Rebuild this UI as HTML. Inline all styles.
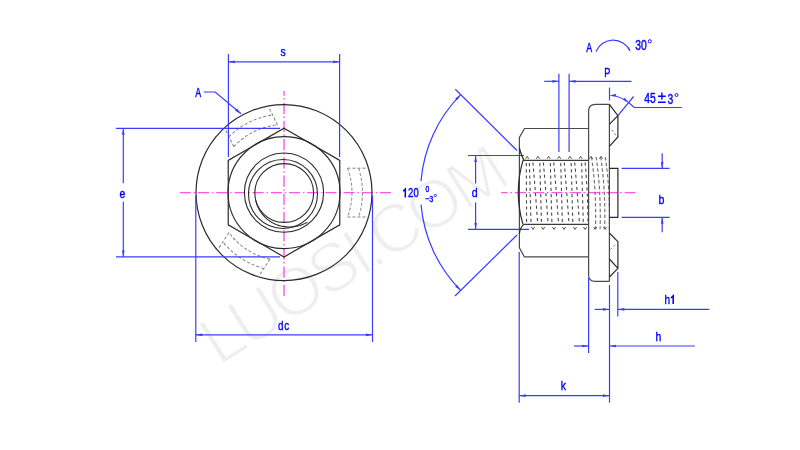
<!DOCTYPE html>
<html><head><meta charset="utf-8"><style>
html,body{margin:0;padding:0;background:#fff;width:800px;height:450px;overflow:hidden}
svg{display:block;will-change:transform}
text{font-family:"Liberation Sans",sans-serif}
</style></head><body>
<svg width="800" height="450" viewBox="0 0 800 450">
<rect width="800" height="450" fill="#fff"/>
<text transform="translate(218.77,366.85) rotate(-32.1)" font-size="68.7" letter-spacing="-4.65" fill="#eeeeee" stroke="#ffffff" stroke-width="2.0">LUOSI.COM</text>
<line x1="179.8" y1="192.6" x2="391" y2="192.6" stroke="#ff55e8" stroke-width="1.4" fill="none" stroke-dasharray="11,2.9,1.5,2.8"/>
<line x1="284.0" y1="91" x2="284.0" y2="296.7" stroke="#ff55e8" stroke-width="1.4" fill="none" stroke-dasharray="11.2,2.5,1.6,2.9" stroke-dashoffset="6.5"/>
<circle cx="284.0" cy="192.6" r="88" stroke="#2a2a2a" stroke-width="1.2" fill="none"/>
<polygon points="284.00,128.20 339.77,160.40 339.77,224.80 284.00,257.00 228.23,224.80 228.23,160.40" stroke="#2a2a2a" stroke-width="1.2" fill="none"/>
<circle cx="284.0" cy="192.6" r="56" stroke="#2a2a2a" stroke-width="1.1" fill="none"/>
<circle cx="284.0" cy="192.6" r="39.6" stroke="#2a2a2a" stroke-width="1.1" fill="none"/>
<circle cx="284.2" cy="193" r="29.4" stroke="#2a2a2a" stroke-width="1.1" fill="none"/>
<circle cx="283" cy="194" r="34.5" stroke="#2a2a2a" stroke-width="1.1" fill="none"/>
<path d="M255.80,200.61 L255.99,201.31 L256.18,202.02 L256.39,202.71 L256.61,203.41 L256.84,204.10 L257.09,204.79 L257.35,205.48 L257.63,206.16 L257.92,206.84 L258.23,207.51 L258.55,208.17 L258.89,208.83 L259.24,209.49 L259.60,210.14 L259.98,210.78 L260.38,211.41 L260.79,212.04 L261.22,212.66 L261.66,213.27 L262.11,213.87 L262.58,214.46 L263.07,215.05 L263.57,215.62 L264.08,216.19 L264.61,216.74 L265.15,217.28 L265.71,217.82 L266.28,218.34 L266.86,218.85 L267.46,219.34 L268.07,219.83 L268.69,220.30 L269.33,220.76 L269.98,221.21 L270.64,221.64 L271.31,222.05 L271.99,222.46 L272.69,222.84 L273.40,223.22 L274.12,223.57 L274.85,223.91 L275.59,224.24 L276.34,224.55 L277.10,224.84 L277.87,225.11 L278.64,225.37 L279.43,225.61 L280.23,225.83 L281.03,226.04 L281.84,226.22 L282.66,226.39 L283.48,226.53 L284.31,226.66 L285.15,226.77 L285.99,226.86 L286.84,226.92 L287.69,226.97 L288.55,227.00 L289.41,227.01 L290.27,226.99 L291.14,226.96 L292.00,226.90 L292.87,226.83 L293.74,226.73 L294.62,226.61 L295.49,226.47 L296.36,226.30 L297.23,226.12 L298.10,225.91 L298.97,225.69 L299.83,225.43 L300.69,225.16 L301.55,224.87 L302.41,224.55 L303.26,224.21 L304.10,223.85 L304.94,223.47 L305.77,223.07 L306.60,222.64 L307.42,222.19" stroke="#2a2a2a" stroke-width="1.1" fill="none" />
<path transform="translate(284.0,192.6) rotate(0)" d="M63.47,-24.4 L84.55,-24.4 M63.47,24.4 L84.55,24.4 M63.47,-24.4 A68.0,68.0 0 0 1 63.47,24.4 M74.61,-24.4 A78.5,78.5 0 0 1 74.61,24.4" stroke="#808080" stroke-width="1" fill="none" stroke-dasharray="3,2"/>
<path transform="translate(284.0,192.6) rotate(-116.5)" d="M63.47,-24.4 L84.55,-24.4 M63.47,24.4 L84.55,24.4 M63.47,-24.4 A68.0,68.0 0 0 1 63.47,24.4 M74.61,-24.4 A78.5,78.5 0 0 1 74.61,24.4" stroke="#808080" stroke-width="1" fill="none" stroke-dasharray="3,2"/>
<path transform="translate(284.0,192.6) rotate(-237)" d="M63.47,-24.4 L84.55,-24.4 M63.47,24.4 L84.55,24.4 M63.47,-24.4 A68.0,68.0 0 0 1 63.47,24.4 M74.61,-24.4 A78.5,78.5 0 0 1 74.61,24.4" stroke="#808080" stroke-width="1" fill="none" stroke-dasharray="3,2"/>
<line x1="228.40" y1="54.00" x2="228.40" y2="157.00" stroke="#3c3cff" stroke-width="1.2" />
<line x1="339.60" y1="54.00" x2="339.60" y2="157.00" stroke="#3c3cff" stroke-width="1.2" />
<line x1="228.40" y1="61.80" x2="339.60" y2="61.80" stroke="#3c3cff" stroke-width="1.2" />
<polygon points="228.40,61.80 234.90,60.45 234.90,63.15" fill="#3c3cff"/>
<polygon points="339.60,61.80 333.10,63.15 333.10,60.45" fill="#3c3cff"/>
<text transform="translate(283.00,56.20) scale(0.8,1)" font-size="13" text-anchor="middle" fill="#0000ff" stroke="#0000ff" stroke-width="0.4" >s</text>
<text transform="translate(198.20,97.30) scale(0.66,1)" font-size="13.4" text-anchor="middle" fill="#0000ff" stroke="#0000ff" stroke-width="0.4" >A</text>
<polyline points="203.7,92 215.2,92 241,113.8" stroke="#3c3cff" stroke-width="1.2" fill="none"/>
<polygon points="241.00,113.80 235.16,110.64 236.91,108.57" fill="#3c3cff"/>
<line x1="116.00" y1="128.30" x2="280.00" y2="128.30" stroke="#3c3cff" stroke-width="1.2" />
<line x1="116.00" y1="256.90" x2="280.00" y2="256.90" stroke="#3c3cff" stroke-width="1.2" />
<line x1="123.30" y1="128.30" x2="123.30" y2="183.30" stroke="#3c3cff" stroke-width="1.2" />
<line x1="123.30" y1="201.70" x2="123.30" y2="256.90" stroke="#3c3cff" stroke-width="1.2" />
<polygon points="123.30,128.30 124.65,134.80 121.95,134.80" fill="#3c3cff"/>
<polygon points="123.30,256.90 121.95,250.40 124.65,250.40" fill="#3c3cff"/>
<text transform="translate(122.50,197.80) scale(0.8,1)" font-size="13" text-anchor="middle" fill="#0000ff" stroke="#0000ff" stroke-width="0.4" >e</text>
<line x1="195.80" y1="195.80" x2="195.80" y2="342.00" stroke="#3c3cff" stroke-width="1.2" />
<line x1="372.50" y1="195.60" x2="372.50" y2="342.00" stroke="#3c3cff" stroke-width="1.2" />
<line x1="195.80" y1="334.80" x2="372.50" y2="334.80" stroke="#3c3cff" stroke-width="1.2" />
<polygon points="195.80,334.80 202.30,333.45 202.30,336.15" fill="#3c3cff"/>
<polygon points="372.50,334.80 366.00,336.15 366.00,333.45" fill="#3c3cff"/>
<text transform="translate(283.90,330.00) scale(0.76,1)" font-size="13" text-anchor="middle" fill="#0000ff" stroke="#0000ff" stroke-width="0.4" letter-spacing="1">dc</text>
<line x1="455.30" y1="89.30" x2="517.00" y2="150.50" stroke="#3c3cff" stroke-width="1.2" />
<line x1="455.00" y1="296.00" x2="517.00" y2="235.00" stroke="#3c3cff" stroke-width="1.2" />
<path d="M460.75,94.69 A139.2,139.2 0 0 0 420.98,181.10" stroke="#3c3cff" stroke-width="1.2" fill="none" />
<path d="M421.02,204.60 A139.2,139.2 0 0 0 460.66,290.41" stroke="#3c3cff" stroke-width="1.2" fill="none" />
<polygon points="460.75,94.69 457.14,100.26 455.22,98.36" fill="#3c3cff"/>
<polygon points="460.66,290.41 455.13,286.74 457.05,284.84" fill="#3c3cff"/>
<text transform="translate(413.40,197.10) scale(0.72,1)" font-size="13.2" text-anchor="middle" fill="#0000ff" stroke="#0000ff" stroke-width="0.4" >20</text>
<path d="M403.2,191.3 L405.3,189.2 L405.3,197.6" stroke="#0000ff" stroke-width="1.55" fill="none"/>
<text transform="translate(427.30,191.50) scale(0.75,1)" font-size="9" text-anchor="middle" fill="#0000ff" stroke="#0000ff" stroke-width="0.4" >0</text>
<text transform="translate(425.20,201.60) scale(0.75,1)" font-size="9.5" text-anchor="start" fill="#0000ff" stroke="#0000ff" stroke-width="0.4" >−3</text>
<circle cx="435.3" cy="195.5" r="1.1" stroke="#0000ff" stroke-width="0.8" fill="none"/>
<line x1="468.00" y1="155.50" x2="524.00" y2="155.50" stroke="#3c3cff" stroke-width="1.2" />
<line x1="468.00" y1="229.40" x2="529.00" y2="229.40" stroke="#3c3cff" stroke-width="1.2" />
<line x1="475.60" y1="155.50" x2="475.60" y2="183.50" stroke="#3c3cff" stroke-width="1.2" />
<line x1="475.60" y1="202.50" x2="475.60" y2="229.40" stroke="#3c3cff" stroke-width="1.2" />
<polygon points="475.60,155.50 476.95,162.00 474.25,162.00" fill="#3c3cff"/>
<polygon points="475.60,229.40 474.25,222.90 476.95,222.90" fill="#3c3cff"/>
<text transform="translate(474.60,197.30) scale(0.78,1)" font-size="13.6" text-anchor="middle" fill="#0000ff" stroke="#0000ff" stroke-width="0.4" >d</text>
<line x1="501.1" y1="192.6" x2="635.6" y2="192.6" stroke="#ff55e8" stroke-width="1.4" fill="none" stroke-dasharray="11.2,2.5,1.7,2.9" stroke-dashoffset="4.6"/>
<path d="M589,128.5 L524.5,128.5 L519.4,137.5 L519.4,247.8 L524.4,256.9 L589,256.9" stroke="#4a4a4a" stroke-width="1.2" fill="none" />
<path d="M519.4,148 Q521.5,156 524,160.4" stroke="#2a2a2a" stroke-width="1.2" fill="none" />
<path d="M523.8,224.4 Q519.8,228 519.4,234" stroke="#2a2a2a" stroke-width="1.2" fill="none" />
<path d="M523,160.4 Q513.5,192.6 523,224.4" stroke="#2a2a2a" stroke-width="1.2" fill="none" />
<line x1="523.00" y1="160.40" x2="589.00" y2="160.40" stroke="#3a3a3a" stroke-width="1.3" />
<line x1="524.00" y1="224.40" x2="589.00" y2="224.40" stroke="#3a3a3a" stroke-width="1.3" />
<path d="M526.3,163 L526.6,223" stroke="#4a4a4a" stroke-width="1.1" fill="none" stroke-dasharray="3.2,3"/>
<path d="M529.40,163 L531.00,223" stroke="#4a4a4a" stroke-width="1.1" fill="none" stroke-dasharray="3.2,3"/>
<path d="M539.85,163 L541.45,223" stroke="#4a4a4a" stroke-width="1.1" fill="none" stroke-dasharray="3.2,3"/>
<path d="M550.30,163 L551.90,223" stroke="#4a4a4a" stroke-width="1.1" fill="none" stroke-dasharray="3.2,3"/>
<path d="M560.75,163 L562.35,223" stroke="#4a4a4a" stroke-width="1.1" fill="none" stroke-dasharray="3.2,3"/>
<path d="M571.20,163 L572.80,223" stroke="#4a4a4a" stroke-width="1.1" fill="none" stroke-dasharray="3.2,3"/>
<path d="M581.65,163 L583.25,223" stroke="#4a4a4a" stroke-width="1.1" fill="none" stroke-dasharray="3.2,3"/>
<path d="M532.90,162.5 Q535.50,192 537.60,223" stroke="#4a4a4a" stroke-width="1.1" fill="none" stroke-dasharray="3.2,3"/>
<path d="M543.35,162.5 Q545.95,192 548.05,223" stroke="#4a4a4a" stroke-width="1.1" fill="none" stroke-dasharray="3.2,3"/>
<path d="M553.80,162.5 Q556.40,192 558.50,223" stroke="#4a4a4a" stroke-width="1.1" fill="none" stroke-dasharray="3.2,3"/>
<path d="M564.25,162.5 Q566.85,192 568.95,223" stroke="#4a4a4a" stroke-width="1.1" fill="none" stroke-dasharray="3.2,3"/>
<path d="M574.70,162.5 Q577.30,192 579.40,223" stroke="#4a4a4a" stroke-width="1.1" fill="none" stroke-dasharray="3.2,3"/>
<path d="M585.15,162.5 Q587.75,192 588.00,223" stroke="#4a4a4a" stroke-width="1.1" fill="none" stroke-dasharray="3.2,3"/>
<path d="M591.50,157 Q596.50,190 595.50,229" stroke="#6a6a6a" stroke-width="1.1" fill="none" stroke-dasharray="3.6,2.2"/>
<path d="M596.10,157 Q601.10,190 600.10,229" stroke="#6a6a6a" stroke-width="1.1" fill="none" stroke-dasharray="3.6,2.2"/>
<path d="M600.70,157 Q605.70,190 604.70,229" stroke="#6a6a6a" stroke-width="1.1" fill="none" stroke-dasharray="3.6,2.2"/>
<path d="M605.30,157 Q610.30,190 609.30,229" stroke="#6a6a6a" stroke-width="1.1" fill="none" stroke-dasharray="3.6,2.2"/>
<path d="M525.60,158.8 L527.20,156.3 L528.80,158.8" stroke="#555" stroke-width="1" fill="none" />
<path d="M536.30,158.8 L537.90,156.3 L539.50,158.8" stroke="#555" stroke-width="1" fill="none" />
<path d="M547.00,158.8 L548.60,156.3 L550.20,158.8" stroke="#555" stroke-width="1" fill="none" />
<path d="M557.60,158.8 L559.20,156.3 L560.80,158.8" stroke="#555" stroke-width="1" fill="none" />
<path d="M568.30,158.8 L569.90,156.3 L571.50,158.8" stroke="#555" stroke-width="1" fill="none" />
<path d="M579.00,158.8 L580.60,156.3 L582.20,158.8" stroke="#555" stroke-width="1" fill="none" />
<path d="M589.40,158.8 L591.00,156.3 L592.60,158.8" stroke="#555" stroke-width="1" fill="none" />
<path d="M599.40,158.8 L601.00,156.3 L602.60,158.8" stroke="#555" stroke-width="1" fill="none" />
<path d="M531.40,227 L533.00,229.5 L534.60,227" stroke="#555" stroke-width="1" fill="none" />
<path d="M541.50,227 L543.10,229.5 L544.70,227" stroke="#555" stroke-width="1" fill="none" />
<path d="M552.40,227 L554.00,229.5 L555.60,227" stroke="#555" stroke-width="1" fill="none" />
<path d="M562.50,227 L564.10,229.5 L565.70,227" stroke="#555" stroke-width="1" fill="none" />
<path d="M573.40,227 L575.00,229.5 L576.60,227" stroke="#555" stroke-width="1" fill="none" />
<path d="M583.50,227 L585.10,229.5 L586.70,227" stroke="#555" stroke-width="1" fill="none" />
<path d="M593.60,227 L595.20,229.5 L596.80,227" stroke="#555" stroke-width="1" fill="none" />
<path d="M603.40,227 L605.00,229.5 L606.60,227" stroke="#555" stroke-width="1" fill="none" />
<path d="M609.4,104.3 L595.5,104.3 Q588.6,104.3 588.6,111 L588.6,275 Q588.6,281.4 595.2,281.4 L609.4,281.4" stroke="#4a4a4a" stroke-width="1.2" fill="none" />
<line x1="609.40" y1="104.30" x2="609.40" y2="281.40" stroke="#4a4a4a" stroke-width="1.2" />
<path d="M609.4,104.3 L617.9,115.7 L617.9,137 L609.4,146.3 M609.4,124.3 L617.9,115.7" stroke="#2a2a2a" stroke-width="1.2" fill="none" />
<path d="M611.7,129.7 L616.3,135.7" stroke="#808080" stroke-width="1" fill="none" stroke-dasharray="2.5,2"/>
<path d="M609.4,233 L617.9,241.7 L617.9,268.3 L609.4,277 M609.4,259 L617.9,268.3" stroke="#2a2a2a" stroke-width="1.2" fill="none" />
<path d="M610.3,249.7 L615.7,244.3" stroke="#808080" stroke-width="1" fill="none" stroke-dasharray="2.5,2"/>
<path d="M609.4,168.4 L617.9,168.4 L617.9,217.3 L609.4,217.3" stroke="#2a2a2a" stroke-width="1.2" fill="none" />
<line x1="558.90" y1="73.80" x2="558.90" y2="152.00" stroke="#3c3cff" stroke-width="1.2" />
<line x1="569.10" y1="73.80" x2="569.10" y2="152.00" stroke="#3c3cff" stroke-width="1.2" />
<line x1="544.20" y1="81.30" x2="558.90" y2="81.30" stroke="#3c3cff" stroke-width="1.2" />
<line x1="569.10" y1="81.30" x2="631.50" y2="81.30" stroke="#3c3cff" stroke-width="1.2" />
<polygon points="558.90,81.30 552.40,82.65 552.40,79.95" fill="#3c3cff"/>
<polygon points="569.10,81.30 575.60,79.95 575.60,82.65" fill="#3c3cff"/>
<text transform="translate(607.20,77.40) scale(0.74,1)" font-size="12.4" text-anchor="middle" fill="#0000ff" stroke="#0000ff" stroke-width="0.4" >P</text>
<text transform="translate(589.30,52.00) scale(0.66,1)" font-size="13.4" text-anchor="middle" fill="#0000ff" stroke="#0000ff" stroke-width="0.4" >A</text>
<path d="M596,51.5 A18.6,18.6 0 0 1 630,50.8" stroke="#3c3cff" stroke-width="1.2" fill="none" />
<polygon points="630.40,51.50 627.44,47.99 629.02,47.12" fill="#3c3cff"/>
<text transform="translate(635.30,50.30) scale(0.75,1)" font-size="13.8" text-anchor="start" fill="#0000ff" stroke="#0000ff" stroke-width="0.4" >30</text>
<circle cx="649.8" cy="41.3" r="1.6" stroke="#0000ff" stroke-width="0.9" fill="none"/>
<line x1="609.50" y1="87.60" x2="609.50" y2="100.40" stroke="#3c3cff" stroke-width="1.2" />
<path d="M610.5,95.5 Q620,96 628,102" stroke="#3c3cff" stroke-width="1.2" fill="none" />
<polygon points="610.30,95.50 615.72,93.83 615.86,96.62" fill="#3c3cff"/>
<polygon points="628.30,102.20 623.06,100.02 624.74,97.78" fill="#3c3cff"/>
<line x1="617.90" y1="115.70" x2="633.60" y2="96.50" stroke="#3c3cff" stroke-width="1.2" />
<polyline points="628.8,102.7 634.3,107.5 681.8,107.5" stroke="#3c3cff" stroke-width="1.2" fill="none"/>
<text transform="translate(644.20,103.30) scale(0.75,1)" font-size="13.8" text-anchor="start" fill="#0000ff" stroke="#0000ff" stroke-width="0.4" >45</text>
<path d="M658,96.2 H665.7 M661.9,92.5 V99.4 M658,102.3 H665.7" stroke="#0000ff" stroke-width="1.4" fill="none"/>
<text transform="translate(667.40,103.50) scale(0.75,1)" font-size="13.8" text-anchor="start" fill="#0000ff" stroke="#0000ff" stroke-width="0.4" >3</text>
<circle cx="676.5" cy="95" r="1.5" stroke="#0000ff" stroke-width="0.9" fill="none"/>
<line x1="621.60" y1="168.40" x2="669.60" y2="168.40" stroke="#3c3cff" stroke-width="1.2" />
<line x1="621.60" y1="217.30" x2="669.60" y2="217.30" stroke="#3c3cff" stroke-width="1.2" />
<line x1="662.20" y1="153.30" x2="662.20" y2="168.40" stroke="#3c3cff" stroke-width="1.2" />
<line x1="662.20" y1="217.30" x2="662.20" y2="232.20" stroke="#3c3cff" stroke-width="1.2" />
<polygon points="662.20,168.40 660.85,161.90 663.55,161.90" fill="#3c3cff"/>
<polygon points="662.20,217.30 663.55,223.80 660.85,223.80" fill="#3c3cff"/>
<text transform="translate(661.50,204.40) scale(0.78,1)" font-size="13.6" text-anchor="middle" fill="#0000ff" stroke="#0000ff" stroke-width="0.4" >b</text>
<line x1="519.20" y1="252.00" x2="519.20" y2="402.70" stroke="#3c3cff" stroke-width="1.2" />
<line x1="609.50" y1="285.00" x2="609.50" y2="402.70" stroke="#3c3cff" stroke-width="1.2" />
<line x1="519.20" y1="395.70" x2="609.50" y2="395.70" stroke="#3c3cff" stroke-width="1.2" />
<polygon points="519.20,395.70 525.70,394.35 525.70,397.05" fill="#3c3cff"/>
<polygon points="609.50,395.70 603.00,397.05 603.00,394.35" fill="#3c3cff"/>
<text transform="translate(563.40,389.60) scale(0.8,1)" font-size="13" text-anchor="middle" fill="#0000ff" stroke="#0000ff" stroke-width="0.4" >k</text>
<line x1="617.80" y1="272.00" x2="617.80" y2="316.60" stroke="#3c3cff" stroke-width="1.2" />
<line x1="594.70" y1="309.40" x2="609.50" y2="309.40" stroke="#3c3cff" stroke-width="1.2" />
<line x1="617.80" y1="309.40" x2="709.30" y2="309.40" stroke="#3c3cff" stroke-width="1.2" />
<polygon points="609.50,309.40 603.00,310.75 603.00,308.05" fill="#3c3cff"/>
<polygon points="617.80,309.40 624.30,308.05 624.30,310.75" fill="#3c3cff"/>
<text transform="translate(667.20,303.90) scale(0.78,1)" font-size="13" text-anchor="middle" fill="#0000ff" stroke="#0000ff" stroke-width="0.4" >h</text>
<path d="M671.0,298.0 L673.2,295.8 L673.2,304.1" stroke="#0000ff" stroke-width="1.55" fill="none"/>
<line x1="588.60" y1="277.80" x2="588.60" y2="353.10" stroke="#3c3cff" stroke-width="1.2" />
<line x1="574.00" y1="346.00" x2="588.60" y2="346.00" stroke="#3c3cff" stroke-width="1.2" />
<line x1="609.50" y1="346.00" x2="695.00" y2="346.00" stroke="#3c3cff" stroke-width="1.2" />
<polygon points="588.60,346.00 582.10,347.35 582.10,344.65" fill="#3c3cff"/>
<polygon points="609.50,346.00 616.00,344.65 616.00,347.35" fill="#3c3cff"/>
<text transform="translate(658.40,341.00) scale(0.8,1)" font-size="13" text-anchor="middle" fill="#0000ff" stroke="#0000ff" stroke-width="0.4" >h</text>
</svg>
</body></html>
